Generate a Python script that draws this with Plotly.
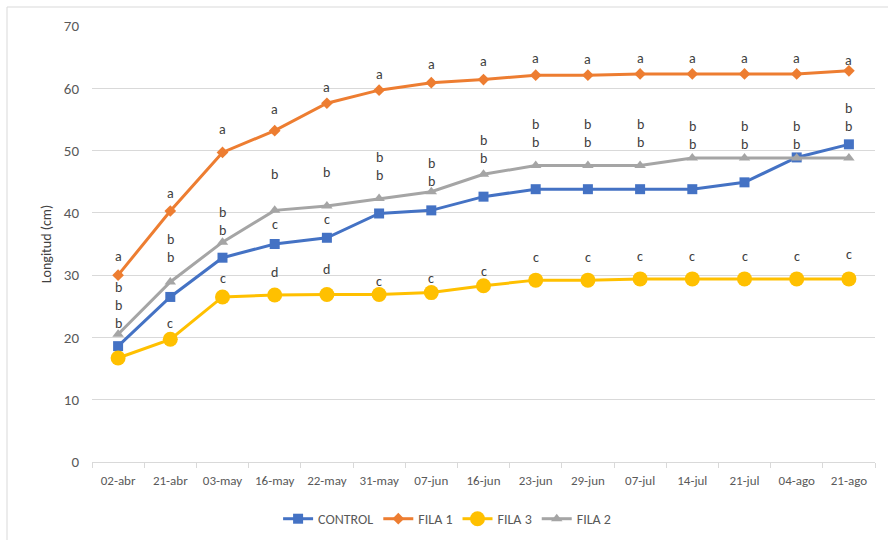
import plotly.graph_objects as go

# Sampling dates (category axis)
fechas = ["02-abr", "21-abr", "03-may", "16-may", "22-may", "31-may", "07-jun",
          "16-jun", "23-jun", "29-jun", "07-jul", "14-jul", "21-jul", "04-ago", "21-ago"]

# Plant length (cm) per treatment
control = [18.6, 26.5, 32.8, 35.0, 36.0, 39.9, 40.4, 42.6, 43.8, 43.8, 43.8, 43.8, 44.9, 48.9, 51.0]
fila1 = [30.0, 40.3, 49.7, 53.2, 57.6, 59.7, 60.9, 61.4, 62.1, 62.1, 62.3, 62.3, 62.3, 62.3, 62.8]
fila3 = [16.7, 19.7, 26.5, 26.8, 26.9, 26.9, 27.2, 28.3, 29.2, 29.2, 29.4, 29.4, 29.4, 29.4, 29.4]
fila2 = [20.5, 28.9, 35.3, 40.4, 41.1, 42.3, 43.4, 46.2, 47.6, 47.6, 47.6, 48.8, 48.8, 48.8, 48.8]

# Mean-separation letters attached to each series
letras_fila1 = ["a"] * 15
letras_fila2 = ["b\nb\nb", "b\nb", "b\nb", "b", "b", "b\nb", "b\nb", "b\nb",
                "b\nb", "b\nb", "b\nb", "b\nb", "b\nb", "b\nb", "b\nb"]
letras_control = ["", "", "", "c", "c", "", "", "", "", "", "", "", "", "", ""]
letras_fila3 = ["", "c", "c", "d", "d", "c", "c", "c", "c", "c", "c", "c", "c", "c", "c"]

# Vertical pixel offsets of the letter labels above their points
desp_fila1 = [19, 17, 23, 21, 16, 16, 18, 18, 17, 16, 15, 15, 15, 15, 10]
desp_fila2 = [29, 33, 21, 36, 34, 32, 19, 25, 32, 32, 32, 23, 23, 23, 41]
desp_control = [0, 0, 0, 20, 18, 0, 0, 0, 0, 0, 0, 0, 0, 0, 0]
desp_fila3 = [0, 16, 18, 23, 25, 13, 14, 14, 23, 23, 22, 22, 22, 22, 24]

FONT = "Carlito, Calibri, Lato, sans-serif"
GRID = "#d9d9d9"
TXT = "#595959"

series = [
    ("CONTROL", control, "#4472C4", "square", 10),
    ("FILA 1", fila1, "#ED7D31", "diamond", 9),
    ("FILA 3", fila3, "#FFC000", "circle", 15),
    ("FILA 2", fila2, "#A5A5A5", "triangle-up", 10),
]

fig = go.Figure()
for nombre, vals, color, simbolo, tam in series:
    fig.add_trace(go.Scatter(
        x=fechas, y=vals, name=nombre, mode="lines+markers",
        line=dict(color=color, width=3),
        marker=dict(symbol=simbolo, size=tam, color=color, line=dict(width=0)),
    ))

anotaciones = []
for vals, letras, desp in [(fila1, letras_fila1, desp_fila1),
                           (fila2, letras_fila2, desp_fila2),
                           (control, letras_control, desp_control),
                           (fila3, letras_fila3, desp_fila3)]:
    for f, v, t, d in zip(fechas, vals, letras, desp):
        if not t:
            continue
        anotaciones.append(dict(
            x=f, y=v, xref="x", yref="y", text=t.replace("\n", "<br>"),
            showarrow=False, yanchor="middle", yshift=d,
            font=dict(family=FONT, size=14, color="#404040"),
        ))

fig.update_layout(
    width=888, height=540,
    margin=dict(l=92, r=13, t=26, b=78, autoexpand=False),
    paper_bgcolor="white", plot_bgcolor="white",
    font=dict(family=FONT, color=TXT),
    showlegend=True,
    legend=dict(orientation="h", x=0.4535, xanchor="center", y=-0.131, yanchor="middle",
                font=dict(family=FONT, size=14, color=TXT), itemwidth=30,
                traceorder="normal"),
    annotations=anotaciones,
    shapes=[dict(type="rect", xref="paper", yref="paper",
                 x0=(7 - 92) / 783, x1=(900 - 92) / 783,
                 y0=(462 - 560) / 436, y1=(462 - 7) / 436,
                 line=dict(color=GRID, width=1), layer="below")],
)

fig.update_xaxes(
    type="category", range=[-0.5, len(fechas) - 0.5],
    showgrid=False, showline=True, linecolor=GRID, linewidth=1,
    ticks="outside", tickson="boundaries", ticklen=5, tickcolor=GRID,
    tickfont=dict(family=FONT, size=13, color=TXT), ticklabelstandoff=6,
    automargin=False,
)
fig.update_yaxes(
    range=[0, 70], dtick=10, showgrid=True, gridcolor=GRID, gridwidth=1,
    zeroline=False, showline=False, ticks="",
    tickfont=dict(family=FONT, size=15, color=TXT), ticklabelstandoff=12,
    title=dict(text="Longitud (cm)", standoff=8,
               font=dict(family=FONT, size=14, color="#404040")),
    automargin=False,
)

fig.write_html("out.html")
